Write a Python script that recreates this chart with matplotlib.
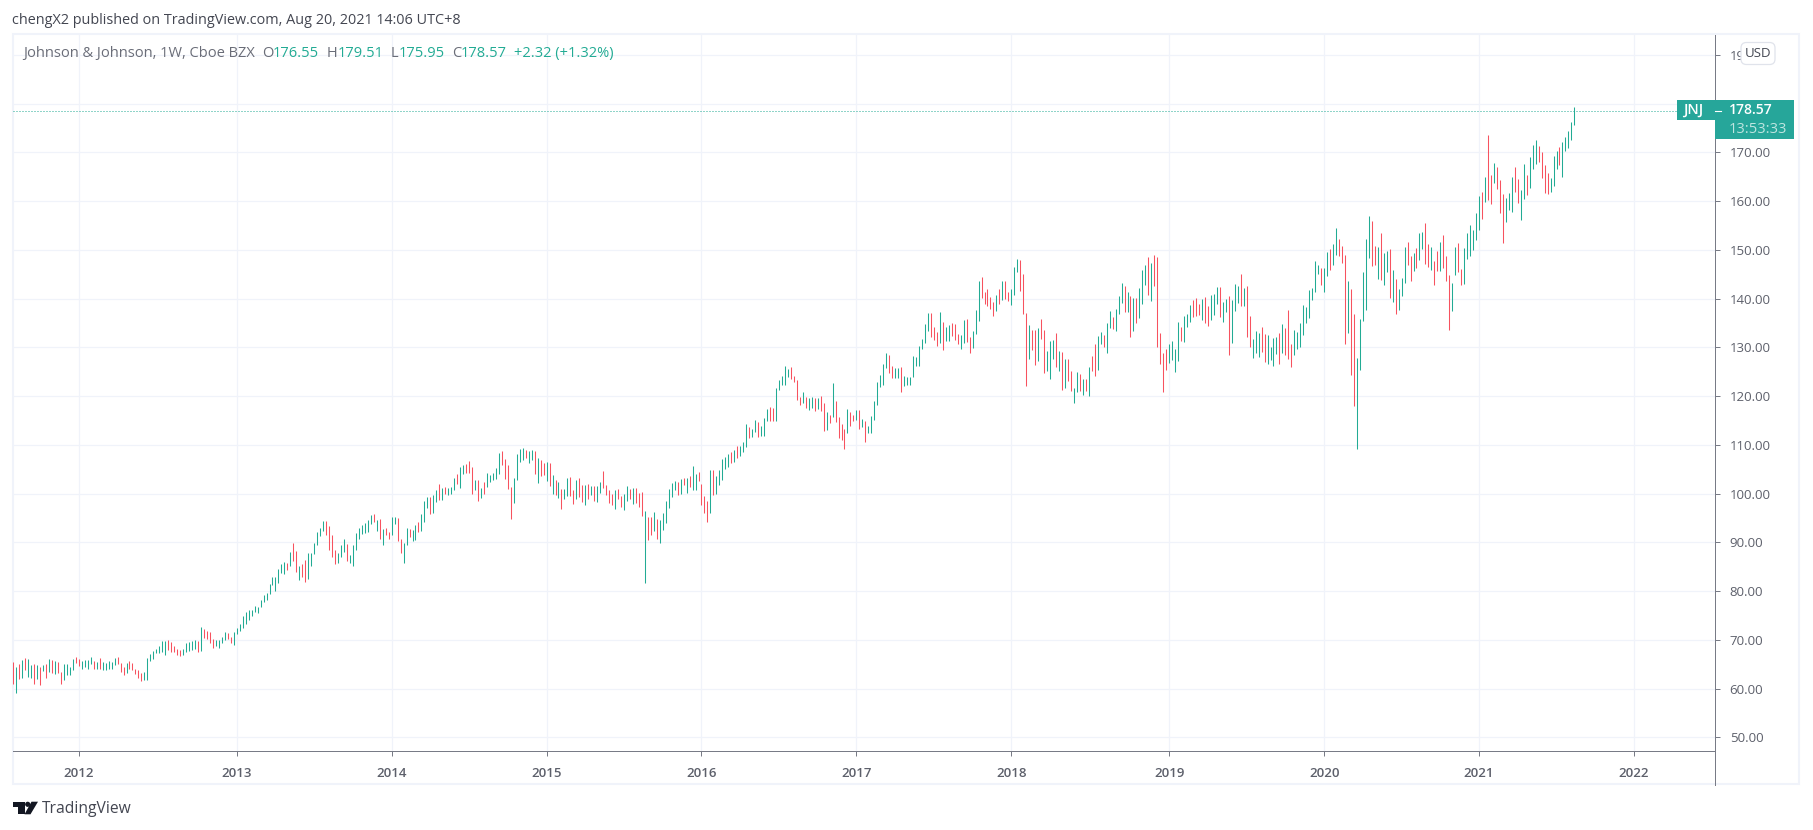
import matplotlib
matplotlib.use("Agg")
import matplotlib.pyplot as plt
import pandas as pd
from matplotlib.lines import Line2D
from matplotlib.patches import Circle, FancyBboxPatch, Polygon, Rectangle

# weekly bars, first week is 2011-08-01
HIGHS = [
    65.4, 64.4, 65, 65.8, 66.2, 66, 64.8, 65, 64.8, 64.4,
    64.8, 65, 66, 65.9, 65.6, 65.4, 63.3, 65, 65, 64.4,
    66, 66.4, 66, 65.6, 65.8, 65.9, 66.4, 65.6, 65.4, 66.2,
    65.4, 65.2, 65.6, 65.4, 66.2, 66.4, 65.3, 64.4, 65.2, 65.6,
    65.2, 64.1, 63.9, 63.1, 63.3, 66.2, 67, 67.8, 68.2, 68.8,
    69.7, 69.7, 69.9, 69.5, 68.8, 68.2, 68, 68.2, 69.3, 69.5,
    69.7, 69.9, 69.7, 72.7, 72.3, 71.9, 71.7, 70.1, 69.9, 69.9,
    70.5, 71.7, 71.3, 70.5, 71.7, 72.5, 73.3, 74.8, 75.6, 76.2,
    76.2, 77, 76.8, 78.2, 79.2, 79.7, 81.5, 82.9, 82.9, 84.6,
    85.6, 86, 85.8, 88.1, 89.9, 88.3, 85.2, 85.6, 86.4, 87.9,
    87.9, 89.9, 92.2, 93, 94.4, 94.4, 93.4, 91.5, 88.5, 87.9,
    89.5, 90.7, 89.7, 87.4, 89.5, 91.9, 93, 93.6, 94, 94.6,
    95.6, 95.8, 94.6, 94.8, 92.8, 93, 92.2, 95.2, 95.2, 95,
    90.7, 89.9, 93, 92.8, 92.6, 93.6, 94.2, 95.8, 98.5, 99.3,
    99.3, 99.7, 100.8, 102, 101.2, 101.4, 101.2, 101.4, 103.2, 104,
    105.5, 105.9, 106.1, 106.7, 105.5, 102.8, 102.8, 101.2, 102.4, 104.2,
    103.8, 104.2, 105.3, 108.3, 108.7, 107.1, 105.9, 101.4, 103.2, 108.1,
    109.1, 109.4, 108.9, 108.7, 108.9, 108.7, 107.3, 106.9, 106.3, 106.5,
    106.3, 103.8, 102.8, 102.4, 100.9, 100.9, 103.2, 103.4, 100.8, 102.8,
    103.2, 101.8, 101.8, 102, 101.6, 101.6, 101.6, 102.3, 104.6, 101.7,
    100.7, 99.9, 100.7, 100.9, 99.5, 99.9, 101.5, 100.9, 101.1, 101.1,
    100.1, 100.3, 96.4, 95.2, 95.2, 96.2, 94.7, 94.5, 96, 98.4,
    100.9, 102.1, 102.5, 102.3, 102.9, 103.1, 103.1, 103.5, 105.6, 104,
    104.4, 101.9, 99.5, 98.4, 104.8, 104.8, 103.5, 104.8, 107, 107.4,
    108.1, 108.5, 108.9, 109.7, 109.7, 110.5, 114.2, 113.6, 113.2, 115,
    114.6, 113.8, 115.4, 117.3, 117.7, 117.5, 121.6, 123.2, 124.2, 126.1,
    125.5, 125.9, 124.2, 123.2, 119.9, 120.8, 119.9, 119.5, 119.9, 119.5,
    119.5, 120.1, 118.5, 116.7, 116.2, 122.6, 118.9, 115.6, 114.2, 113.2,
    117.3, 116.7, 116.2, 117.1, 117.1, 115.2, 114.8, 113.8, 116, 118.9,
    122.8, 124.4, 126.5, 128.9, 128.5, 126.1, 125.7, 125.7, 125.9, 124.2,
    124, 124, 128.3, 128.1, 130.2, 131.7, 134.8, 137, 137, 134.1,
    133.1, 137.2, 135.2, 134.1, 134.6, 135, 134.8, 132.7, 132.5, 135.6,
    135.8, 132.1, 133.3, 137.6, 143.5, 144.4, 141.3, 141.9, 140.3, 139.3,
    140.7, 141.9, 143.5, 143.7, 141.3, 141.9, 146.4, 148.2, 148, 145,
    137, 134.6, 133.5, 133.5, 133.9, 135.8, 133.5, 129.3, 131.3, 131.5,
    132.9, 129.3, 129, 127.6, 127.6, 125.2, 121.7, 125, 124.6, 123.5,
    123.5, 126, 128.2, 130.7, 132.3, 133.1, 132.5, 135, 137.4, 136.2,
    137.8, 140.5, 143.1, 142.5, 141.3, 140.5, 140.1, 140.1, 142.1, 145.8,
    146.8, 148.6, 147.2, 149, 148.6, 132.9, 128.8, 129.7, 130.7, 131.3,
    129.7, 135.2, 134.1, 136.4, 136.8, 138.6, 139.7, 140.1, 138.8, 139.9,
    140.3, 138.4, 140.7, 140.9, 142.3, 142.3, 139.3, 139.9, 140.5, 139.7,
    142.9, 142.5, 145, 142.1, 142.5, 136.4, 131.7, 133.3, 132.9, 134.1,
    132.7, 132.5, 130.1, 131.9, 132.1, 132.9, 134.8, 133.9, 137.6, 130.7,
    133.5, 133.1, 134.9, 138.6, 138.2, 141.7, 142.1, 147.8, 146.8, 146.2,
    146.2, 149.5, 150.1, 151.1, 154.4, 152.3, 150.7, 149, 143.7, 141.9,
    136.8, 127.8, 135.8, 145.4, 152.3, 157, 156, 150.7, 150.5, 153.5,
    149.3, 149.7, 150.1, 145.8, 144.1, 141.9, 144.3, 150.5, 151.7, 148.8,
    149.3, 150.3, 153.5, 153.7, 155.4, 151.1, 150.5, 147.8, 149.7, 151.5,
    153.1, 148.8, 144.8, 143.1, 150.5, 151.3, 146, 150.3, 153.5, 155,
    154, 157.6, 161.1, 161.9, 165, 173.6, 165.4, 167.8, 167, 164.4,
    161.5, 160.7, 161.7, 165, 167, 164.6, 162.3, 167.6, 165.4, 169.1,
    171.5, 172.5, 171.3, 170.1, 167.4, 165.8, 164.8, 169.3, 170.3, 171.1,
    172.1, 173.2, 174.4, 176.2, 179.3,
]
LOWS = [
    61, 59.1, 62, 62.2, 63.8, 62.3, 62.1, 61, 61.9, 60.8,
    63.5, 62.1, 63.3, 63.1, 62.9, 63.1, 60.9, 61.7, 62.7, 62.7,
    63.9, 65.2, 64.6, 64.1, 64.4, 64.1, 65, 64.1, 64.1, 64.1,
    63.9, 63.9, 64.1, 64.1, 64.8, 65, 63.3, 62.7, 63.1, 64.1,
    63.9, 62.9, 62.1, 61.5, 61.7, 61.7, 65.6, 66, 67.2, 67.2,
    67.6, 66.8, 68, 67.6, 67.4, 66.8, 66.6, 66.8, 67.6, 67.8,
    68, 68.2, 67.6, 67.8, 70.3, 70.1, 69.3, 68.4, 68.8, 68.4,
    69.3, 69.9, 70.1, 69.3, 69, 71.1, 71.9, 72.5, 73.3, 74.1,
    74.8, 75.8, 75.4, 76.7, 77.7, 78.2, 79.3, 81.2, 80.1, 81.6,
    83.8, 83.5, 84.4, 85.2, 86.2, 84, 82.3, 82.9, 81.9, 82.5,
    85.2, 87.6, 89.5, 91.3, 92.4, 91.5, 88.5, 87, 85.6, 85.8,
    87, 88.1, 86.2, 85.8, 85.2, 88.5, 90.7, 91.7, 91.9, 92.2,
    93.8, 94.2, 92.4, 90.7, 89.5, 91.5, 90.7, 91.5, 93.8, 90.3,
    87.9, 85.8, 89.5, 91.1, 90.3, 90.5, 92.2, 92.4, 94.2, 97.1,
    95.8, 96, 98.3, 98.7, 98.7, 99.9, 99.7, 99.9, 100.8, 102,
    101.2, 104, 104.2, 104.2, 99.9, 100.8, 98.5, 99.1, 99.9, 101.4,
    102.4, 102.8, 103, 104, 105.9, 103, 101, 94.8, 98.1, 102.8,
    106.5, 106.9, 107.3, 106.3, 106.9, 104, 102.2, 103.6, 103.8, 102.6,
    101.6, 99.9, 99.7, 99.1, 96.9, 98.9, 99.5, 99.5, 97.9, 98.9,
    99.3, 98.3, 97.7, 98.9, 99.7, 98.5, 98.3, 100.1, 101.1, 99.7,
    98, 97.6, 96.8, 98.8, 97.2, 96.6, 98.4, 98.8, 97.8, 98,
    97.2, 95.4, 81.6, 90.4, 91.5, 92.3, 90.6, 89.8, 92.5, 93.9,
    97, 99.2, 100.7, 99.7, 99.9, 101.7, 100.1, 101.3, 100.7, 100.7,
    102.5, 97.6, 96, 94.1, 96, 99.7, 99.9, 101.7, 102.7, 105,
    105.4, 106.2, 106.4, 107.2, 107.6, 108.5, 109.5, 111.3, 111.5, 112.6,
    111.5, 111.9, 111.9, 114.8, 114.8, 114.8, 114.8, 121.2, 122.2, 122.2,
    124, 123.4, 122.8, 119.1, 118.1, 118.5, 117.5, 117.1, 117.5, 116.9,
    117.3, 116.9, 112.8, 113, 114.4, 115.6, 114.6, 111.3, 110.9, 109.1,
    112.4, 113.8, 114.8, 115, 113.2, 113.6, 110.5, 112.4, 112.4, 115,
    118.1, 121.8, 122.2, 125.7, 124.8, 123.8, 123.8, 123.8, 120.8, 122,
    122.2, 122.2, 124, 126.1, 126.1, 129.7, 130.9, 133.3, 132.1, 131.5,
    130.3, 130.9, 129.5, 131.3, 131.3, 132.3, 131.5, 130.7, 129.7, 130.9,
    131.1, 128.8, 129.9, 132.7, 135.4, 140.1, 138.8, 138.4, 137.8, 136.4,
    137.4, 138.8, 139.7, 139.9, 139.5, 138.6, 140.7, 145.4, 141.5, 136.8,
    122.1, 127.6, 129.5, 126.4, 127.2, 131.7, 124.8, 125.2, 123.5, 127.6,
    126, 125.2, 121.3, 121.7, 123.1, 121.1, 118.6, 120.9, 121.1, 120.3,
    121.1, 120.1, 125.2, 124.1, 125.4, 130.7, 130.1, 128.8, 133.9, 133.7,
    133.3, 136.8, 139, 137.2, 137.2, 132.1, 133.3, 135, 136, 138.8,
    142.7, 140.7, 139.5, 142.5, 130.1, 126.6, 120.9, 125.4, 126.8, 127.4,
    125, 127.2, 131.3, 131.1, 134.1, 135.2, 136.2, 136.4, 136.6, 135.6,
    135, 134.4, 135.6, 136.7, 138.8, 136.2, 135.2, 137.2, 128.4, 130.9,
    137.4, 139, 138.4, 138.4, 132.1, 130.1, 127.8, 128.8, 128, 129,
    127, 126.6, 127.4, 126.2, 128.6, 126.6, 128.8, 128.4, 127.6, 126,
    128.4, 129.7, 130, 132.5, 134.9, 136, 139.6, 141.3, 145, 142.7,
    141.3, 144.6, 145.8, 146.8, 149, 148.8, 147.2, 130.7, 132.9, 124.3,
    118, 109.2, 125.3, 135.4, 137.6, 148.4, 146.6, 146.8, 144.1, 143.9,
    142.7, 145.4, 140.1, 139.2, 136.8, 137.6, 140.5, 143.1, 146.8, 143.7,
    145.6, 146.2, 148, 150.1, 147, 146.4, 145.8, 142.7, 145.6, 145.6,
    146.2, 143.7, 133.5, 137.4, 144.8, 145.4, 142.7, 142.9, 148.2, 148.8,
    149.9, 152.1, 154, 156.4, 159.9, 160.3, 159.3, 163.6, 162.5, 157.6,
    151.3, 155.8, 158.2, 157.8, 161.9, 159.5, 156.2, 160.5, 161.3, 162.7,
    166.6, 167.6, 168.1, 164.8, 161.7, 161.5, 161.9, 163.1, 166.6, 167.4,
    165, 170.3, 170.9, 172.5, 175.6,
]
# g = week closed up, r = week closed down
DIRECTIONS = (
    "rgrgrggrgr" "grgrgrrggg" "grrggggrgr" "gggggrrrgr" "rrrrgggggg"
    "ggrrrrrggg" "ggrgrrrrgg" "ggrrgggggg" "gggggggggg" "ggrgrrgrrg"
    "gggggrrrrg" "ggrggggggg" "grgrgrrggr" "rggrggrggg" "rggrgrgggr"
    "ggrrrgrgrg" "ggggrrrrgg" "ggrggrgrrg" "rgrgrggrrg" "rrgrgrggrr"
    "rrgrrggrgr" "rrgrrgrggg" "gggrgrgrgg" "rrrrgrgggg" "grgrgggrgg"
    "rgggrrgggg" "grrrrgrggr" "grrgrgrrrr" "grrgrgrggg" "ggggrrggrg"
    "ggggggggrr" "rgrggrrrgg" "rrgggrrrrr" "grgrrgggrr" "rgrrgrrggg"
    "rgrgrrggrg" "rgrrggrggr" "gggrgrgrgg" "grgrrrrrgg" "ggrgggrrrg"
    "rrgggrggrg" "ggrgrrgggr" "rggggrgrrr" "gggggggggr" "ggrggrrrgr"
    "rgggggrrgr" "ggrgrgggrr" "grggrrgrrg" "rrrggrrggg" "gggrgrrgrr"
    "rgggrrggrg" "ggrrrrgggr" "ggggg"
)
FIRST_WEEK = "2011-08-01"
WEEKS_ON_AXIS = 572  # empty weeks to the right of the last bar are part of the axis
YEARS = list(range(2012, 2023))
PRICE_TICKS = list(range(50, 200, 10))
LAST_CLOSE = 178.57

W, H = 1813, 830
GREEN = "#22ab94"
RED = "#f7525f"
GRID = "#f0f3fa"
AXIS = "#787b86"
LABEL = "#5d606b"
TAG = "#26a69a"

plt.rcParams["font.family"] = ["Open Sans", "DejaVu Sans"]


def fx(x):
    return x / W


def fy(y):
    return 1 - y / H


def put_text(fig, x, y, s, color, size, zorder=6, **kw):
    fig.text(fx(x), fy(y), s, color=color, fontsize=size, va="center", zorder=zorder, **kw)


fig = plt.figure(figsize=(W / 100, H / 100), dpi=100, facecolor="white")

# outer pane border goes under the axes
fig.add_artist(Rectangle((fx(13), fy(784)), fx(1799 - 13), 750 / H, transform=fig.transFigure,
                         facecolor="white", edgecolor=GRID, linewidth=1.5, zorder=-1))

ax = fig.add_axes([fx(13), fy(751), fx(1715 - 13), (751 - 35) / H])
ax.patch.set_visible(False)

dates = pd.date_range(FIRST_WEEK, periods=WEEKS_ON_AXIS, freq="W-MON")
colors = [GREEN if d == "g" else RED for d in DIRECTIONS]
bars = ax.vlines(range(len(HIGHS)), LOWS, HIGHS, colors=colors, linewidth=0.75, zorder=3)
bars.set_snap(True)

ax.set_xlim(-0.1, 571.2)
ax.set_ylim(47.19, 194.06)

# a year tick sits on the first bar of that year
year_ticks = [int((dates.year == y).argmax()) for y in YEARS]
ax.set_xticks(year_ticks)
ax.set_xticklabels([str(y) for y in YEARS], fontsize=9.5, color=LABEL, fontweight="semibold")
ax.set_yticks(PRICE_TICKS)
ax.set_yticklabels([f"{v:.2f}" for v in PRICE_TICKS], fontsize=9.5, color=LABEL)
ax.yaxis.tick_right()
ax.tick_params(axis="both", length=3.6, width=0.72, color=AXIS)
ax.tick_params(axis="x", pad=8)
ax.tick_params(axis="y", pad=7)
ax.grid(True, color=GRID, linewidth=0.9)
ax.set_axisbelow(True)
for side in ["top", "left"]:
    ax.spines[side].set_visible(False)
for side in ["right", "bottom"]:
    ax.spines[side].set_color(AXIS)
    ax.spines[side].set_linewidth(0.72)

ax.axhline(LAST_CLOSE, color=GREEN, linewidth=0.72, linestyle=(0, (1, 2)), zorder=2)

# price axis line carries on down through the time scale
fig.add_artist(Line2D([fx(1715), fx(1715)], [fy(751), fy(785)], color=AXIS, linewidth=0.72,
                      transform=fig.transFigure, zorder=1))

# header and OHLC legend
put_text(fig, 12, 20, "chengX2 published on TradingView.com, Aug 20, 2021 14:06 UTC+8", "#434651", 10.4)
legend_parts = [
    (23, "Johnson & Johnson, 1W, Cboe BZX", "#6a6d78"),
    (262, "O", "#6a6d78"), (273, "176.55", GREEN),
    (327, "H", "#6a6d78"), (338, "179.51", GREEN),
    (391, "L", "#6a6d78"), (399, "175.95", GREEN),
    (452, "C", "#6a6d78"), (461, "178.57", GREEN),
    (514, "+2.32 (+1.32%)", GREEN),
]
for x, s, c in legend_parts:
    put_text(fig, x, 53.5, s, c, 10.5)

# last price tag on the scale, covers the 180.00 label
fig.add_artist(Rectangle((fx(1677), fy(120.5)), fx(1794 - 1677), 20.5 / H, transform=fig.transFigure,
                         facecolor=TAG, edgecolor="none", zorder=4))
fig.add_artist(Rectangle((fx(1715), fy(138.7)), fx(1794 - 1715), 19 / H, transform=fig.transFigure,
                         facecolor=TAG, edgecolor="none", zorder=4))
fig.add_artist(Line2D([fx(1715), fx(1721)], [fy(110.5), fy(110.5)], color="white", linewidth=0.8,
                      transform=fig.transFigure, zorder=5))
put_text(fig, 1683, 110, "JNJ", "white", 10.5, fontweight="semibold")
put_text(fig, 1729, 110, "178.57", "white", 10, fontweight="semibold")
put_text(fig, 1729, 129.5, "13:53:33", "#bfe5e0", 10.5)

# currency badge covers the 190.00 label
fig.add_artist(FancyBboxPatch((fx(1741), fy(64.5)), fx(1775 - 1741), 22 / H,
                              boxstyle="round,pad=0,rounding_size=0.003", transform=fig.transFigure,
                              mutation_aspect=W / H, facecolor="white", edgecolor="#e0e3eb",
                              linewidth=0.9, zorder=4))
put_text(fig, 1758, 53.5, "USD", "#434651", 9.5, ha="center")

# TradingView logo
logo = "#131722"
fig.add_artist(Polygon([(fx(a), fy(b)) for a, b in [(13, 801.7), (24.7, 801.7), (24.7, 814.3), (18.3, 814.3),
                                                    (18.3, 807), (13, 807)]],
                       transform=fig.transFigure, facecolor=logo, edgecolor="none", zorder=4))
fig.add_artist(Polygon([(fx(a), fy(b)) for a, b in [(31.5, 801.7), (38, 801.7), (30.5, 814.3), (24.5, 814.3)]],
                       transform=fig.transFigure, facecolor=logo, edgecolor="none", zorder=4))
fig.add_artist(Circle((27.7, H - 804.3), 2.6, transform=None, facecolor=logo, edgecolor="none", zorder=4))
put_text(fig, 42, 808.5, "TradingView", "#434651", 11.25)

fig.savefig("out.png", dpi=100)
